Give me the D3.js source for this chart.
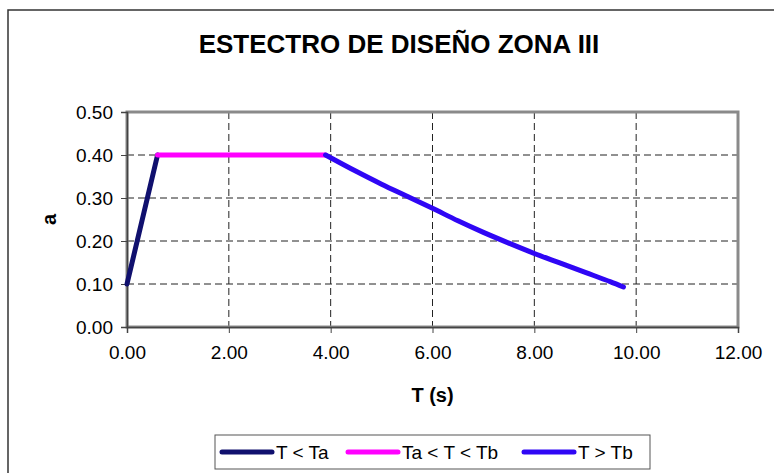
<!DOCTYPE html>
<html>
<head>
<meta charset="utf-8">
<script src="https://cdn.jsdelivr.net/npm/d3@7"></script>
<style>
  html, body { margin: 0; padding: 0; background: #fff; }
  svg { display: block; font-family: "Liberation Sans", Arial, sans-serif; }
</style>
</head>
<body>
<svg id="chart" width="774" height="473"></svg>
<script>
// Spectrum branches: period T (s) and spectral acceleration a
const seriesNames = ["T < Ta", "Ta < T < Tb", "T > Tb"];
const seriesColors = ["#10106e", "#ff00ff", "#2f06f5"];

const tRise = [0.0, 0.6];
const aRise = [0.10, 0.40];

const tPlateau = [0.6, 3.9];
const aPlateau = [0.40, 0.40];

const tDecay = [3.9, 4.5, 5.0, 5.5, 6.0, 6.5, 7.0, 7.5, 8.0, 8.5, 9.0, 9.5, 9.75];
const aDecay = [0.40, 0.362, 0.332, 0.304, 0.276, 0.247, 0.220, 0.195, 0.171, 0.149, 0.127, 0.105, 0.093];

const xTicks = [0, 2, 4, 6, 8, 10, 12];
const yTicks = [0, 0.1, 0.2, 0.3, 0.4, 0.5];

const title = "ESTECTRO DE DISEÑO ZONA III";
const xTitle = "T (s)";
const yTitle = "a";

const svg = d3.select("#chart");

// outer chart frame
svg.append("rect")
  .attr("x", 8).attr("y", 10).attr("width", 800).attr("height", 500)
  .attr("fill", "#fff").attr("stroke", "#333").attr("stroke-width", 1.5);

const plot = { left: 127, right: 738, top: 112, bottom: 327 };
const x = d3.scaleLinear().domain([0, 12]).range([plot.left, plot.right]);
const y = d3.scaleLinear().domain([0, 0.5]).range([plot.bottom, plot.top]);

// title
svg.append("text")
  .attr("x", 399).attr("y", 53)
  .attr("text-anchor", "middle")
  .attr("font-size", 26).attr("font-weight", "bold")
  .attr("fill", "#000")
  .text(title);

// gridlines
const grid = svg.append("g").attr("stroke", "#222").attr("stroke-width", 1).attr("stroke-dasharray", "7,4");
grid.selectAll("line.h").data(yTicks.filter(v => v > 0 && v < 0.5)).join("line")
  .attr("x1", plot.left).attr("x2", plot.right)
  .attr("y1", d => y(d)).attr("y2", d => y(d));
grid.selectAll("line.v").data(xTicks.filter(v => v > 0 && v < 12)).join("line")
  .attr("class", "v")
  .attr("y1", plot.top).attr("y2", plot.bottom)
  .attr("x1", d => x(d)).attr("x2", d => x(d));

// plot area border
svg.append("rect")
  .attr("x", plot.left).attr("y", plot.top)
  .attr("width", plot.right - plot.left).attr("height", plot.bottom - plot.top)
  .attr("fill", "none").attr("stroke", "#8a8a8a").attr("stroke-width", 3);

// axes
const xAxis = d3.axisBottom(x).tickValues(xTicks).tickFormat(d3.format(".2f")).tickSize(6).tickPadding(8);
const yAxis = d3.axisLeft(y).tickValues(yTicks).tickFormat(d3.format(".2f")).tickSize(6).tickPadding(8);

const gx = svg.append("g").attr("transform", `translate(0,${plot.bottom})`).call(xAxis);
const gy = svg.append("g").attr("transform", `translate(${plot.left},0)`).call(yAxis);
[gx, gy].forEach(g => {
  g.select(".domain").attr("stroke", "#444").attr("stroke-width", 1.5);
  g.selectAll(".tick line").attr("stroke", "#444");
  g.selectAll(".tick text").attr("font-size", 19).attr("fill", "#000")
    .attr("font-family", "'Liberation Sans', Arial, sans-serif");
});
gx.selectAll(".tick text").attr("dy", "0.95em");

// axis titles
svg.append("text")
  .attr("x", x(6)).attr("y", 402)
  .attr("text-anchor", "middle")
  .attr("font-size", 20).attr("font-weight", "bold")
  .text(xTitle);
svg.append("text")
  .attr("transform", `translate(56,${(plot.top + plot.bottom) / 2}) rotate(-90)`)
  .attr("text-anchor", "middle")
  .attr("font-size", 20).attr("font-weight", "bold")
  .text(yTitle);

// series lines
const series = [
  { t: tRise, a: aRise },
  { t: tPlateau, a: aPlateau },
  { t: tDecay, a: aDecay }
];
const line = d3.line().x(d => x(d[0])).y(d => y(d[1])).curve(d3.curveMonotoneX);
series.forEach((s, i) => {
  svg.append("path")
    .datum(s.t.map((t, k) => [t, s.a[k]]))
    .attr("d", line)
    .attr("fill", "none")
    .attr("stroke", seriesColors[i])
    .attr("stroke-width", 5)
    .attr("stroke-linecap", "round")
    .attr("stroke-linejoin", "round");
});

// legend
const legend = svg.append("g");
legend.append("rect")
  .attr("x", 215).attr("y", 435).attr("width", 435).attr("height", 34)
  .attr("fill", "#fff").attr("stroke", "#555").attr("stroke-width", 1);
const legendX = [220, 346, 522];
seriesNames.forEach((name, i) => {
  legend.append("line")
    .attr("x1", legendX[i] + 2).attr("x2", legendX[i] + 52)
    .attr("y1", 452).attr("y2", 452)
    .attr("stroke", seriesColors[i]).attr("stroke-width", 5)
    .attr("stroke-linecap", "round");
  legend.append("text")
    .attr("x", legendX[i] + 56).attr("y", 459)
    .attr("font-size", 19).attr("fill", "#000")
    .text(name);
});
</script>
</body>
</html>
